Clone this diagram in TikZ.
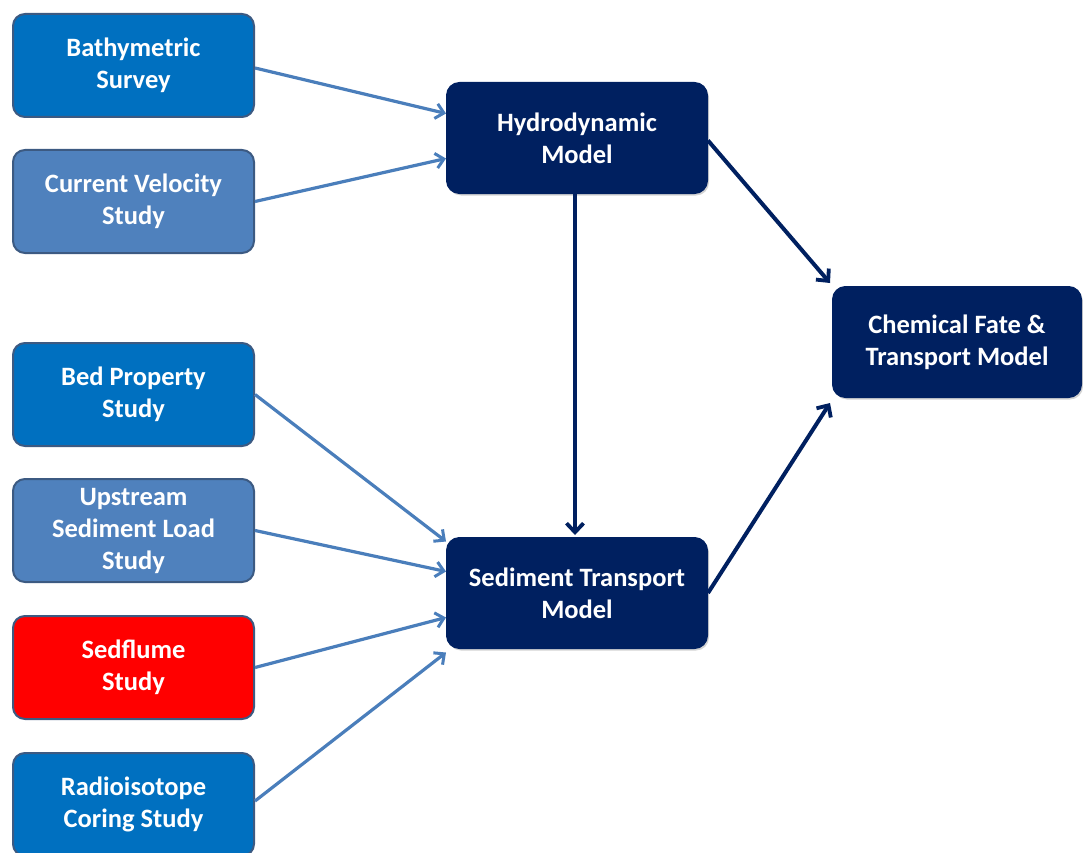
\documentclass[tikz,border=0pt]{standalone}
\usepackage{fontspec}
\setmainfont{Carlito}
\usetikzlibrary{arrows.meta,shadows}
\definecolor{bluebox}{HTML}{0070C0}
\definecolor{lightbox}{HTML}{4F81BD}
\definecolor{navy}{HTML}{002060}
\definecolor{edgegray}{HTML}{3C5A82}
\definecolor{arrowblue}{HTML}{4A7EBB}
\begin{document}
\begin{tikzpicture}[x=1pt,y=-1pt,
  box/.style={draw=edgegray,line width=2pt,rounded corners=12pt,anchor=north west,
    text=white,font=\bfseries\fontsize{26.5}{32}\selectfont,align=center,
    minimum width=241pt,minimum height=103pt,inner sep=0pt},
  model/.style={fill=navy,draw=navy,line width=1pt,rounded corners=13pt,anchor=north west,
    text=white,font=\bfseries\fontsize{26.5}{32}\selectfont,align=center,
    minimum width=261pt,minimum height=111pt,inner sep=0pt,
    drop shadow={shadow xshift=1.5pt,shadow yshift=-2pt,opacity=0.35}},
  inarrow/.style={draw=arrowblue,line width=3.2pt,-{Straight Barb[length=8pt,width=15pt,line width=3pt]}},
  outarrow/.style={draw=navy,line width=4pt,-{Straight Barb[length=9pt,width=17pt,line width=3.8pt]}}]
\useasboundingbox (0,0) rectangle (1083,853);
\node[box,fill=bluebox] (bath) at (12,13) {Bathymetric\\Survey};
\node[box,fill=lightbox] (cur) at (12,149) {Current Velocity\\Study};
\node[box,fill=bluebox] (bed) at (12,342) {Bed Property\\Study};
\node[box,fill=lightbox] (up) at (12,478) {Upstream\\Sediment Load\\Study};
\node[box,fill=red] (sed) at (12,615) {Sedflume\\Study};
\node[box,fill=bluebox] (rad) at (12,752) {Radioisotope\\Coring Study};
\node[model] (hyd) at (446,82) {Hydrodynamic\\Model};
\node[model] (st) at (446,537) {Sediment Transport\\Model};
\node[model,minimum width=249pt] (chem) at (832,286) {Chemical Fate \&\\Transport Model};
% input arrows (yshift: positive = up)
\draw[inarrow] ([yshift=-2.5pt]bath.east) -- ([yshift=24.5pt]hyd.west);
\draw[inarrow] (cur.east) -- ([yshift=-20.5pt]hyd.west);
\draw[inarrow] (bed.east) -- ([yshift=51.5pt]st.west);
\draw[inarrow] (up.east) -- ([yshift=21.5pt]st.west);
\draw[inarrow] (sed.east) -- ([yshift=-24.5pt]st.west);
\draw[inarrow] ([yshift=3.5pt]rad.east) -- ([yshift=-59.5pt]st.west);
% model arrows
\draw[outarrow] ([xshift=-2pt]hyd.south) -- ([xshift=-2pt,yshift=2pt]st.north);
\draw[outarrow] ([yshift=-2.5pt]hyd.east) -- ([xshift=-2pt,yshift=3pt]chem.north west);
\draw[outarrow] (st.east) -- ([xshift=-2pt,yshift=-5pt]chem.south west);
\end{tikzpicture}
\end{document}
